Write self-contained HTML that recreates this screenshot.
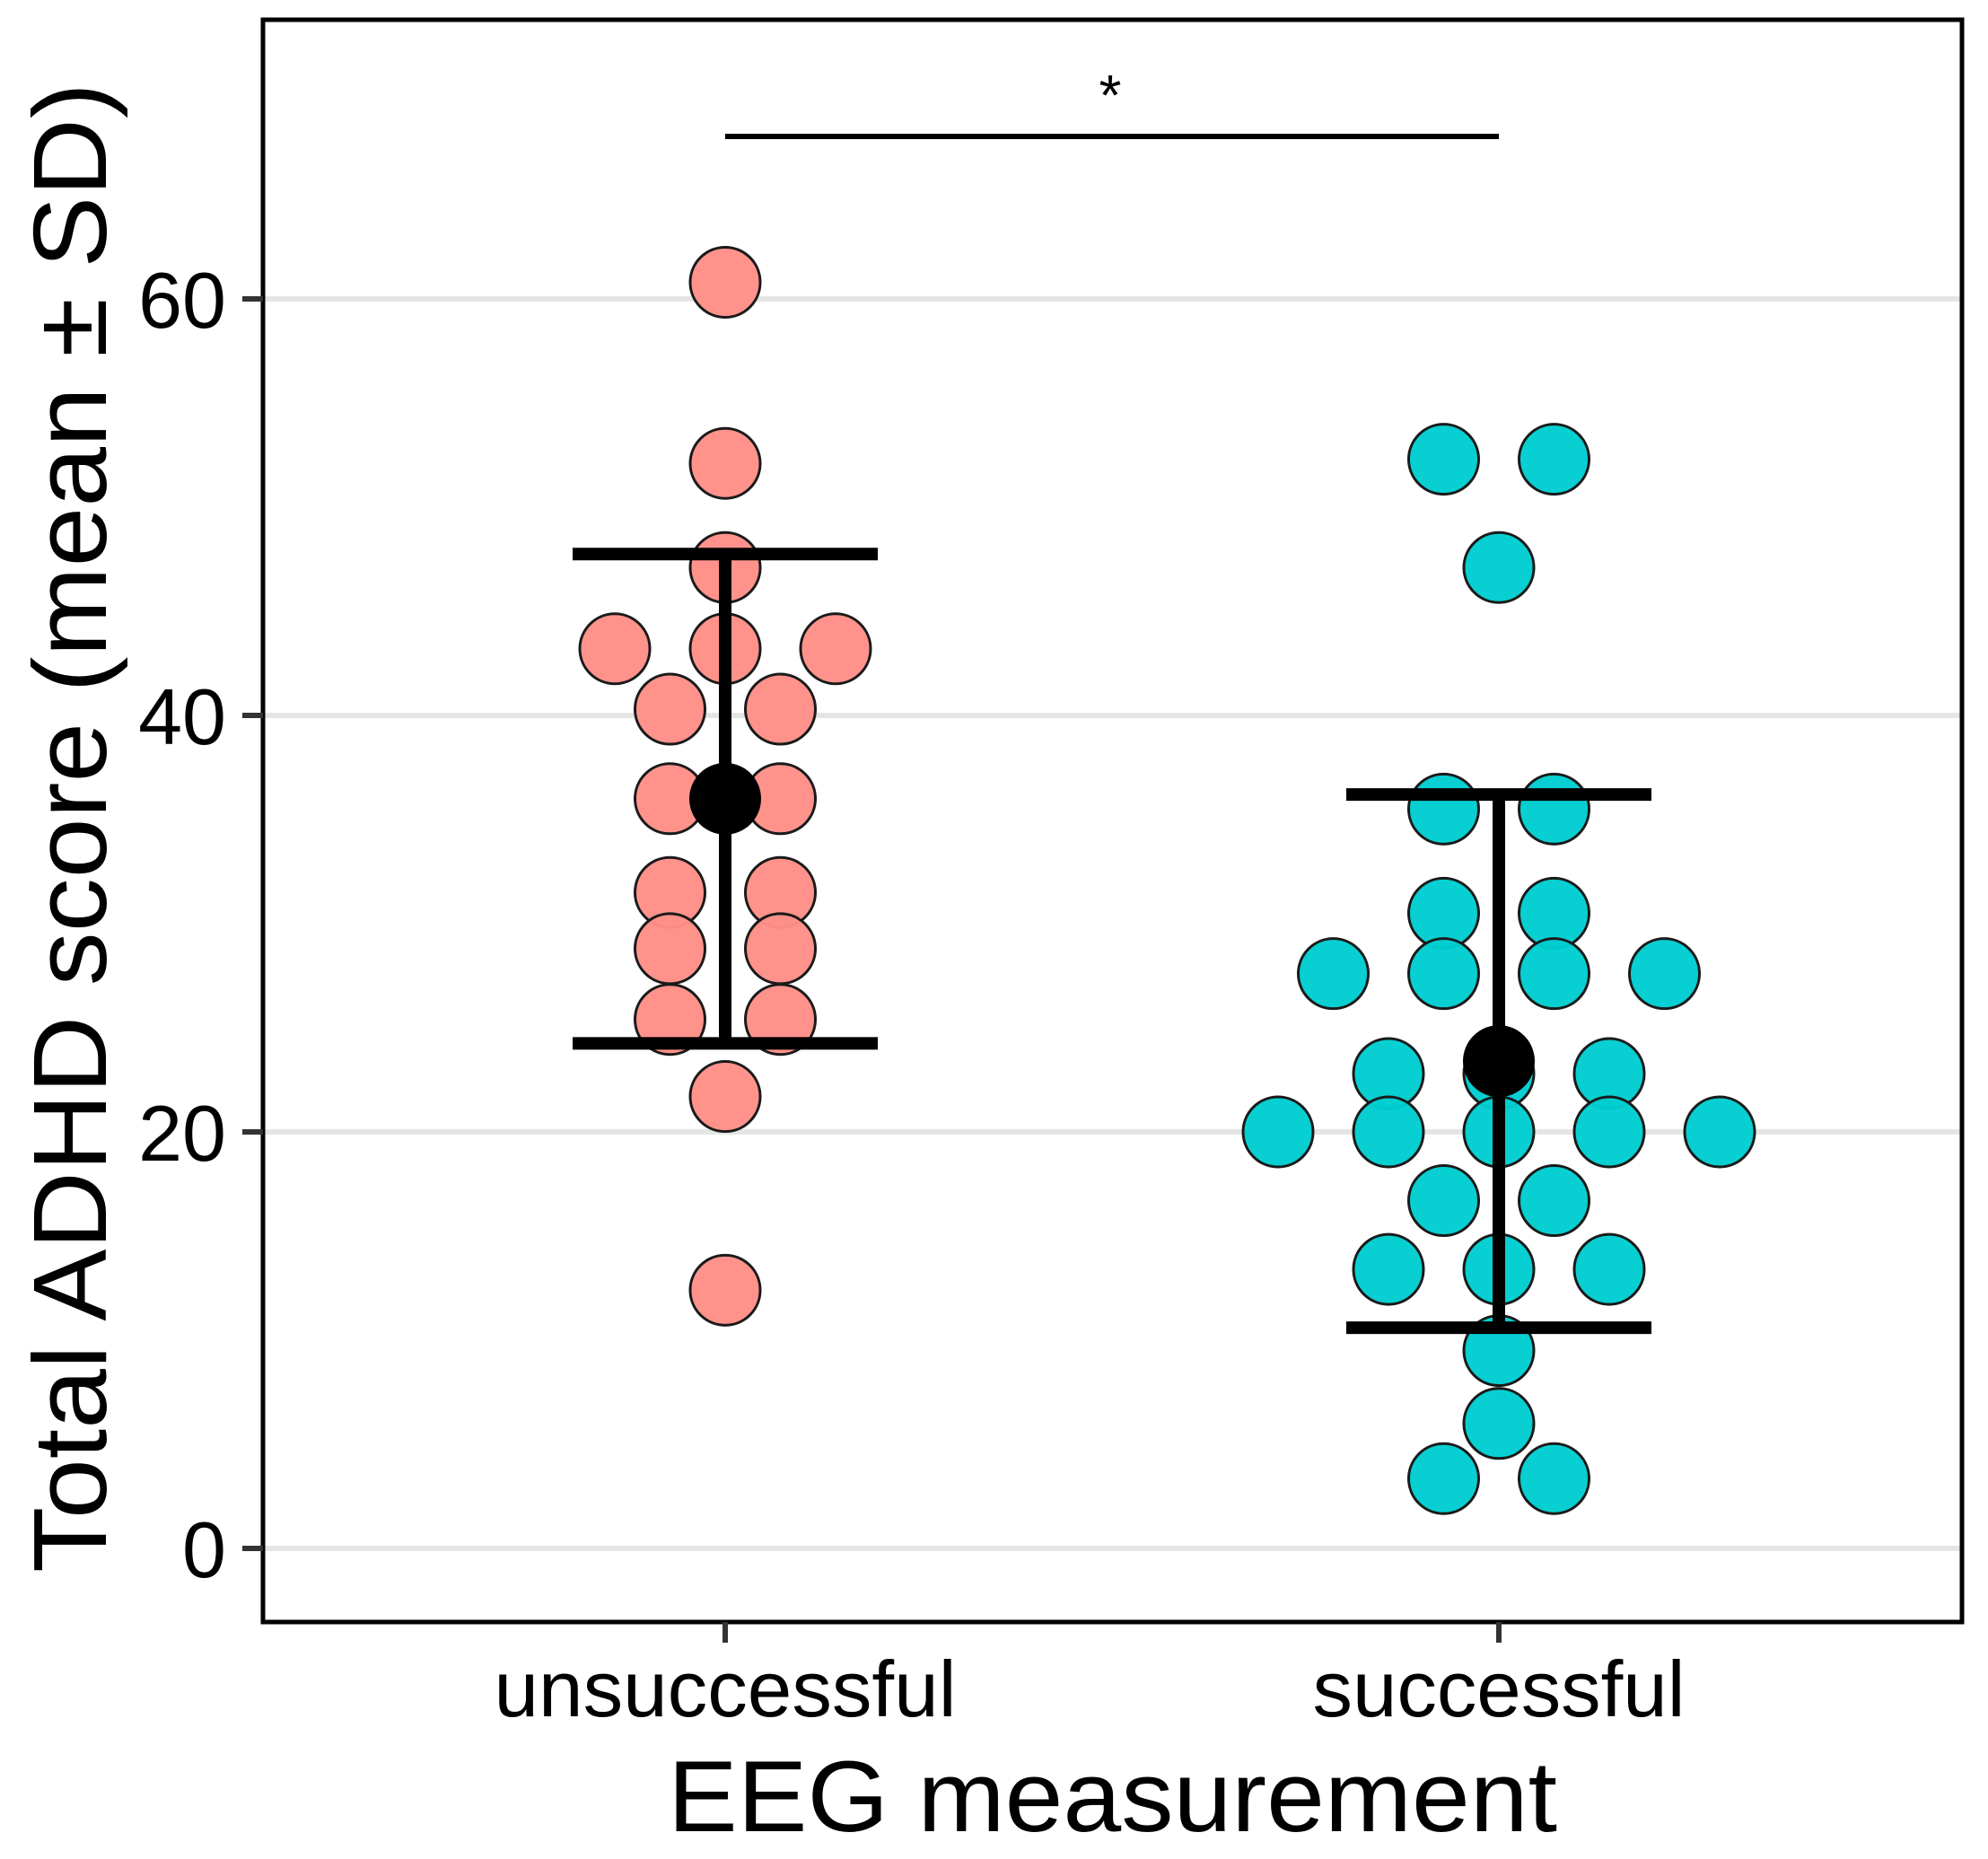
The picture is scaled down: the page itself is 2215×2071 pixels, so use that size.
<!DOCTYPE html>
<html><head><meta charset="utf-8"><style>
html,body{margin:0;padding:0;background:#fff;}
svg{display:block;}
text{font-family:"Liberation Sans",Arial,sans-serif;fill:#000;}
</style></head><body>
<svg id="chart" width="2215" height="2071" viewBox="0 0 2215 2071" xmlns="http://www.w3.org/2000/svg">
<rect x="0" y="0" width="2215" height="2071" fill="#fff"/>
<g id="grid"></g>
<g id="dots"></g>
<g id="stats"></g>
<rect x="293" y="22" width="1893" height="1785" fill="none" stroke="#000" stroke-width="5"/>
<g id="axes"></g>
<text transform="translate(118,1752) rotate(-90)" font-size="116" textLength="1660" lengthAdjust="spacingAndGlyphs">Total ADHD score (mean ± SD)</text>
<text x="744" y="2040" font-size="112" textLength="991" lengthAdjust="spacingAndGlyphs">EEG measurement</text>
<line x1="808" y1="152" x2="1670" y2="152" stroke="#000" stroke-width="6"/>
<text x="1237" y="128" font-size="64" text-anchor="middle">*</text>
</svg>
<script>
const categories = ["unsuccessful", "successful"];
const yTicks = [0, 20, 40, 60];
const unsuccessfulValues = [60.8, 52.1, 47.1, 43.2, 43.2, 43.2, 40.3, 40.3, 36.0, 36.0, 31.5, 31.5, 28.8, 28.8, 25.4, 25.4, 21.7, 12.4];
const unsuccessfulSlots  = [0, 0, 0, -2, 0, 2, -1, 1, -1, 1, -1, 1, -1, 1, -1, 1, 0, 0];
const successfulValues = [52.3, 52.3, 47.1, 35.5, 35.5, 30.5, 30.5, 27.6, 27.6, 27.6, 27.6, 22.8, 22.8, 22.8, 20.0, 20.0, 20.0, 20.0, 20.0, 16.7, 16.7, 13.4, 13.4, 13.4, 9.5, 6.0, 3.35, 3.35];
const successfulSlots  = [-1, 1, 0, -1, 1, -1, 1, -3, -1, 1, 3, -2, 0, 2, -4, -2, 0, 2, 4, -1, 1, -2, 0, 2, 0, 0, -1, 1];
const means = [36.0, 23.4];
const sds = [11.75, 12.8];

const NS = "http://www.w3.org/2000/svg";
const Y0 = 1725, YPER = 23.2;
function yScale(v){ return Y0 - v * YPER; }
const catX = [808, 1670];
const catLabelW = [515, 415];
function xScale(i){ return catX[i]; }
const SLOT = 61.5;
function mk(tag, attrs, parent){
  const e = document.createElementNS(NS, tag);
  for (const k in attrs) e.setAttribute(k, attrs[k]);
  parent.appendChild(e);
  return e;
}
const grid = document.getElementById("grid");
const axes = document.getElementById("axes");
yTicks.forEach(t => {
  const y = yScale(t);
  const g = mk("line", {x1: 293, x2: 2186, y1: y, y2: y, stroke: "#e5e5e5", "stroke-width": 6}, grid);
  
  
  const tk = mk("line", {x1: 270, x2: 293, y1: y, y2: y, stroke: "#333", "stroke-width": 6}, axes);
  
  
  const lb = mk("text", {x: 252, y: y + 32, "font-size": 88, "text-anchor": "end"}, axes);
  lb.textContent = t;
  
  
});
categories.forEach((c, i) => {
  const x = xScale(i);
  const tk = mk("line", {x1: x, x2: x, y1: 1807, y2: 1830, stroke: "#333", "stroke-width": 6}, axes);
  
  
  const lb = mk("text", {x: x, y: 1912, "font-size": 88, "text-anchor": "middle", textLength: catLabelW[i], lengthAdjust: "spacingAndGlyphs"}, axes);
  lb.textContent = c;
  
  
});
const dots = document.getElementById("dots");
const groups = [[unsuccessfulValues, unsuccessfulSlots, "#ff8f88"], [successfulValues, successfulSlots, "#00cdd0"]];
groups.forEach((g, i) => {
  g[0].forEach((v, j) => {
    const c = mk("circle", {cx: xScale(i) + g[1][j] * SLOT, cy: yScale(v), r: 39, fill: g[2], stroke: "#1a1a1a", "stroke-width": 3, "fill-opacity": 0.97}, dots);
    
    
  });
});
const stats = document.getElementById("stats");
means.forEach((m, i) => {
  const x = xScale(i), top = yScale(m + sds[i]), bot = yScale(m - sds[i]);
  const v = mk("line", {x1: x, x2: x, y1: top, y2: bot, stroke: "#000", "stroke-width": 14}, stats);
  
  
  [top, bot].forEach((y, k) => {
    const cap = mk("line", {x1: x - 170, x2: x + 170, y1: y, y2: y, stroke: "#000", "stroke-width": 14}, stats);
    
    
  });
  const d = mk("circle", {cx: x, cy: yScale(m), r: 40, fill: "#000"}, stats);
  
  
});
</script>
</body></html>
